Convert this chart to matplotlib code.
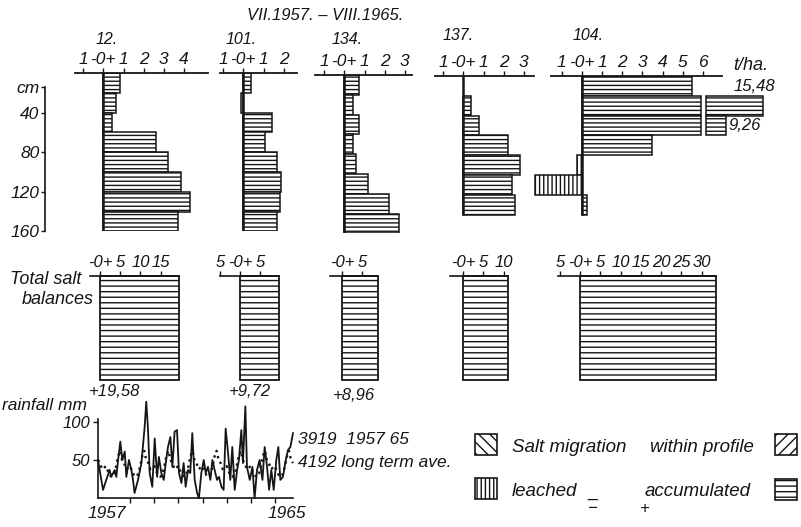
import numpy as np
import matplotlib
matplotlib.use("Agg")
import matplotlib.pyplot as plt
from matplotlib.patches import Rectangle

plt.rcParams["font.family"] = ["Liberation Sans", "DejaVu Sans"]
plt.rcParams["font.style"] = "italic"
plt.rcParams["hatch.linewidth"] = 1.0
plt.rcParams["axes.linewidth"] = 1.2

# ---------------- data ----------------
sites = ["12.", "101.", "134.", "137.", "104."]
depth_top = [0, 20, 40, 60, 80, 100, 120, 140]          # layer tops (cm)
bal_12 = [0.85, 0.65, 0.42, 2.60, 3.20, 3.85, 4.30, 3.71]
bal_101 = [0.40, -0.10, 1.40, 1.05, 1.65, 1.85, 1.80, 1.67]
bal_134 = [0.71, 0.45, 0.75, 0.42, 0.58, 1.15, 2.20, 2.70]
bal_137 = [0.0, 0.37, 0.80, 2.20, 2.80, 2.42, 2.58, np.nan]
bal_104 = [5.45, 15.48, 9.26, 3.50, -0.25, -2.30, 0.28, np.nan]
totals = [19.58, 9.72, 8.96, 11.0, 33.7]
total_text = ["+19,58", "+9,72", "+8,96", "", ""]
top_ticks = [[-1, 0, 1, 2, 3, 4], [-1, 0, 1, 2], [-1, 0, 1, 2, 3],
             [-1, 0, 1, 2, 3], [-1, 0, 1, 2, 3, 4, 5, 6]]
tot_ticks = [[0, 5, 10, 15], [-5, 0, 5], [0, 5], [0, 5, 10],
             [-5, 0, 5, 10, 15, 20, 25, 30]]

# rainfall 1957-65 (months after VII.1957)
rain_month = [0, 2.5, 4.1, 5.8, 6.6, 8.3, 9.1, 10, 11.1, 12.1,
              13.3, 14.1, 15.4, 16.6, 17.4, 18.2, 19.9, 21.6, 23.2, 24,
              24.9, 25.7, 27, 28.2, 29.4, 30.3, 31.5, 32.7, 33.7, 34.8,
              36, 37, 38.1, 39.3, 40.3, 41.5, 42.6, 43.6, 44.8, 45.9,
              46.9, 48.1, 49.3, 50.2, 51.4, 52.6, 53.6, 54.7, 55.9, 56.9,
              58, 59.2, 60.2, 61.4, 62.5, 63.5, 64.7, 65.8, 66.8, 68,
              69.2, 70.1, 71.3, 72.1, 73.3, 74.1, 75.5, 76.8, 77.9, 79.1,
              80.4, 81.8, 82.9, 84.1, 85.1, 86.2, 87.4, 88.7, 89.7, 90.7,
              92, 93.4, 94.5, 95.7, 97]
rain_mm = [50, 11, 24, 37, 28, 37, 28, 50, 74, 50,
           61, 28, 50, 37, 24, 7, 24, 46, 93, 126,
           89, 33, 15, 78, 28, 54, 33, 24, 46, 67,
           80, 41, 87, 89, 33, 20, 46, 15, 37, 33,
           85, 24, 7, 0, 33, 50, 33, 41, 24, 50,
           37, 24, 28, 15, 11, 91, 59, 24, 67, 11,
           37, 50, 89, 46, 120, 41, 24, 41, 0, 37,
           50, 24, 67, 41, 11, 37, 11, 50, 67, 24,
           28, 50, 63, 67, 85]
# long-term monthly average, Jul..Jun
avg_month_mm = [50, 46, 38, 40, 42, 35, 30, 28, 32, 42, 55, 62]
n_months = 98

# ---------------- layout ----------------
W, H = 801, 527
fig = plt.figure(figsize=(W / 100, H / 100), dpi=100)
fig.patch.set_facecolor("white")
INK = "#151515"


def add_ax(x0, x1, y0, y1):
    ax = fig.add_axes([x0 / W, 1 - y1 / H, (x1 - x0) / W, (y1 - y0) / H])
    ax.patch.set_alpha(0)
    for s in ax.spines.values():
        s.set_visible(False)
        s.set_color(INK)
    return ax


def ftext(x, y, s, **kw):
    kw.setdefault("color", INK)
    fig.text(x / W, 1 - y / H, s, **kw)


def tick_lab(v):
    return "-0+" if v == 0 else str(abs(v))


# ---- top row: salt profiles ----
PX_T = 20.2
PX_CM = 0.99
BRK = 6.0
top_zero_px = [103.3, 243.3, 344.3, 463.3, 581.7]
top_lim = [(-1.45, 5.2), (-1.2, 2.7), (-1.5, 3.4), (-1.45, 3.5), (-2.6, 9.7)]
top_line = [(-1.42, 5.19), (-1.17, 2.68), (-1.47, 3.37), (-1.42, 3.5), (-1.5, 6.95)]
top_y0 = [73, 73, 75, 76, 76]
title_dx = [3, -2, 3, -5, 6]
title_y = [40, 40, 40, 36, 36]

profiles = [bal_12, bal_101, bal_134, bal_137, bal_104]
for i, vals in enumerate(profiles):
    lo, hi = top_lim[i]
    z = top_zero_px[i]
    y0 = top_y0[i]
    ax = add_ax(z + lo * PX_T, z + hi * PX_T, y0, y0 + 160 * PX_CM)
    ax.set_xlim(lo, hi)
    ax.set_ylim(160, 0)
    ax.spines["top"].set_visible(True)
    ax.spines["top"].set_bounds(*top_line[i])
    ax.spines["top"].set_linewidth(1.3)
    ax.xaxis.tick_top()
    ax.set_xticks(top_ticks[i])
    ax.set_xticklabels([tick_lab(v) for v in top_ticks[i]])
    ax.tick_params(axis="x", direction="out", length=3.5, width=1.0, pad=0.5,
                   labelsize=12.5, colors=INK)
    ax.set_yticks([])

    v = np.nan_to_num(np.asarray(vals, float))
    tops = np.asarray(depth_top, float)
    pos = v > 0
    neg = v < 0
    big = v > BRK
    disp = np.where(big, BRK - 0.1, v)
    ax.barh(tops[pos] + 10, disp[pos], height=20, color="white",
            edgecolor=INK, hatch="----", linewidth=1.1)
    ax.barh(tops[neg] + 10, disp[neg], height=20, color="white",
            edgecolor=INK, hatch="||||", linewidth=1.1)
    if big.any():
        ax.barh(tops[big] + 10, (v[big] - BRK) * 0.3, left=BRK + 0.15,
                height=20, color="white", edgecolor=INK, hatch="----",
                linewidth=1.1, clip_on=False)
        ends = BRK + 0.15 + (v[big] - BRK) * 0.3
        for t, e, val in zip(tops[big], ends, v[big]):
            lab = f"{val:.2f}".replace(".", ",")
            if val > 12:
                ax.text(e + 0.6, t - 1.5, lab, ha="right", va="bottom",
                        fontsize=12, color=INK)
            else:
                ax.text(e + 0.15, t + 10, lab, ha="left", va="center",
                        fontsize=12, color=INK)
    nz = np.nonzero(v)[0]
    bottom = tops[nz[-1]] + 20
    ax.plot([0, 0], [0, bottom], color=INK, lw=1.8, solid_capstyle="butt")
    ftext(z + title_dx[i], title_y[i], sites[i], ha="center", va="center",
          fontsize=11.5)

ftext(733, 65, "t/ha.", ha="left", va="center", fontsize=13)
ftext(325, 16, "VII.1957. – VIII.1965.", ha="center", va="center",
      fontsize=12)

# depth scale
axd = add_ax(45, 55, 73, 73 + 160 * PX_CM)
axd.set_ylim(160, 0)
axd.set_xticks([])
axd.spines["left"].set_visible(True)
axd.spines["left"].set_bounds(14, 160)
axd.set_yticks([14, 40, 80, 120, 160])
axd.set_yticklabels(["cm", "40", "80", "120", "160"])
axd.tick_params(axis="y", direction="out", length=3, width=1.0, pad=1,
                labelsize=12.5, colors=INK)

# ---- second row: total salt balances ----
PX_B = 4.05
tot_zero_px = [100, 240, 342, 463, 580]
tot_line_lo = [-2.5, -5.0, -3.0, -3.2, -5.5]
tot_label_dx = [3.5, 2.5, 3.0]
tot_label_y = [392, 392, 396]
for i, tot in enumerate(totals):
    z = tot_zero_px[i]
    lo = tot_line_lo[i]
    ax = add_ax(z + lo * PX_B, z + tot * PX_B, 276, 380)
    ax.set_xlim(lo, tot)
    ax.set_ylim(0, 1)
    ax.barh(0.5, tot, height=1, left=0, color="white", edgecolor=INK,
            hatch="---", linewidth=1.3, clip_on=False)
    ax.spines["top"].set_visible(True)
    ax.spines["top"].set_bounds(lo, tot)
    ax.xaxis.tick_top()
    ax.set_xticks(tot_ticks[i])
    ax.set_xticklabels([tick_lab(t) for t in tot_ticks[i]])
    ax.tick_params(axis="x", direction="out", length=3.5, width=1.0, pad=1,
                   labelsize=12, colors=INK)
    ax.set_yticks([])
    if total_text[i]:
        ftext(z + tot_label_dx[i] * PX_B, tot_label_y[i], total_text[i],
              ha="center", va="center", fontsize=12)

ftext(10, 279, "Total salt", ha="left", va="center", fontsize=13)
ftext(22, 300, "balances", ha="left", va="center", fontsize=13)

# ---- rainfall ----
axr = add_ax(98, 293, 398.7, 498.3)
axr.set_xlim(0, n_months - 1)
axr.set_ylim(0, 130)
axr.spines["left"].set_visible(True)
axr.spines["left"].set_bounds(0, 103)
axr.spines["bottom"].set_visible(True)
axr.set_yticks([50, 100])
axr.set_xticks([16, 28, 40, 52, 64, 76, 88])
axr.set_xticklabels([])
axr.tick_params(axis="both", direction="out", length=3.5, width=1.0, pad=2,
                labelsize=12, colors=INK)
axr.plot(np.arange(n_months), np.resize(avg_month_mm, n_months), ls=":",
         color=INK, lw=1.7, clip_on=False)
axr.plot(rain_month, rain_mm, color=INK, lw=1.3, clip_on=False)

ftext(2, 406, "rainfall mm", ha="left", va="center", fontsize=12.5)
ftext(107, 514, "1957", ha="center", va="center", fontsize=12.5)
ftext(287, 514, "1965", ha="center", va="center", fontsize=12.5)
ftext(298, 440, "3919  1957 65", ha="left", va="center", fontsize=12.5)
ftext(298, 463, "4192 long term ave.", ha="left", va="center", fontsize=12.5)

# ---- legend ----
def legend_box(x, y, hatch):
    fig.add_artist(Rectangle((x / W, 1 - (y + 21) / H), 22 / W, 21 / H,
                             transform=fig.transFigure, facecolor="white",
                             edgecolor=INK, hatch=hatch, linewidth=1.2))

legend_box(475, 434, "\\\\\\")
legend_box(775, 434, "///")
legend_box(475, 478, "||||")
legend_box(775, 479, "---")
ftext(512, 448, "Salt migration", ha="left", va="center", fontsize=13.5)
ftext(650, 448, "within profile", ha="left", va="center", fontsize=13.5)
ftext(512, 492, "leached", ha="left", va="center", fontsize=13.5)
ftext(588, 493, "_", ha="left", va="center", fontsize=13)
ftext(593, 509, "−", ha="center", va="center", fontsize=12)
ftext(645, 492, "accumulated", ha="left", va="center", fontsize=13.5)
ftext(645, 509, "+", ha="center", va="center", fontsize=12)

fig.savefig("out.png", dpi=100, facecolor="white")
